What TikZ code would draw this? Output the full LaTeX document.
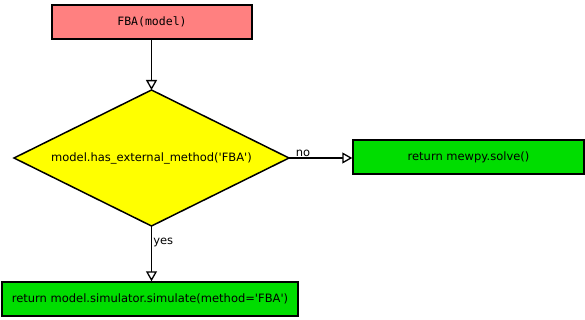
\documentclass[tikz,border=0pt]{standalone}
\usepackage{fontspec}
\setmainfont{DejaVu Sans}
\setsansfont{DejaVu Sans}
\setmonofont{DejaVu Sans Mono}
\usetikzlibrary{shapes.geometric,arrows.meta}
\definecolor{boxred}{HTML}{FF8080}
\definecolor{boxgreen}{HTML}{00DD00}
\definecolor{diayellow}{HTML}{FFFF00}
\newcommand{\sq}{\textquotesingle}
\tikzset{
  every node/.style={font=\fontsize{11.5}{13}\selectfont},
  procbox/.style={draw=black, line width=1.5pt, rectangle, inner sep=0pt},
  decision/.style={draw=black, line width=1.5pt, fill=diayellow, line join=miter},
  flow/.style={draw=black, line width=1.5pt, -{Triangle[fill=white, length=10pt, width=11pt, line width=1.3pt]}},
  lbl/.style={inner sep=1pt}
}
\begin{document}
\begin{tikzpicture}[x=1pt,y=-1pt]
\useasboundingbox (0,0) rectangle (585,320);
\node[procbox, fill=boxred, minimum width=200pt, minimum height=34pt] (start) at (152,22) {\texttt{FBA(model)}};
\coordinate (dT) at (151.5,90);
\coordinate (dR) at (289,158);
\coordinate (dB) at (151.5,226);
\coordinate (dL) at (14,158);
\path[decision] (dT) -- (dR) -- (dB) -- (dL) -- cycle;
\node[inner sep=0pt] (dec) at (151.5,158) {model.has\_external\_method(\sq FBA\sq)};
\node[procbox, fill=boxgreen, minimum width=231pt, minimum height=34pt] (solve) at (468.5,157) {return mewpy.solve()};
\node[procbox, fill=boxgreen, minimum width=296pt, minimum height=34pt] (sim) at (150,299) {return model.simulator.simulate(method=\sq FBA\sq)};
\draw[flow] (start.south -| dT) -- (dT);
\draw[flow] (dR) -- node[lbl, above, pos=0.22] {no} (dR -| solve.west);
\draw[flow] (dB) -- node[lbl, right, pos=0.3] {yes} (dB |- sim.north);
\end{tikzpicture}
\end{document}
